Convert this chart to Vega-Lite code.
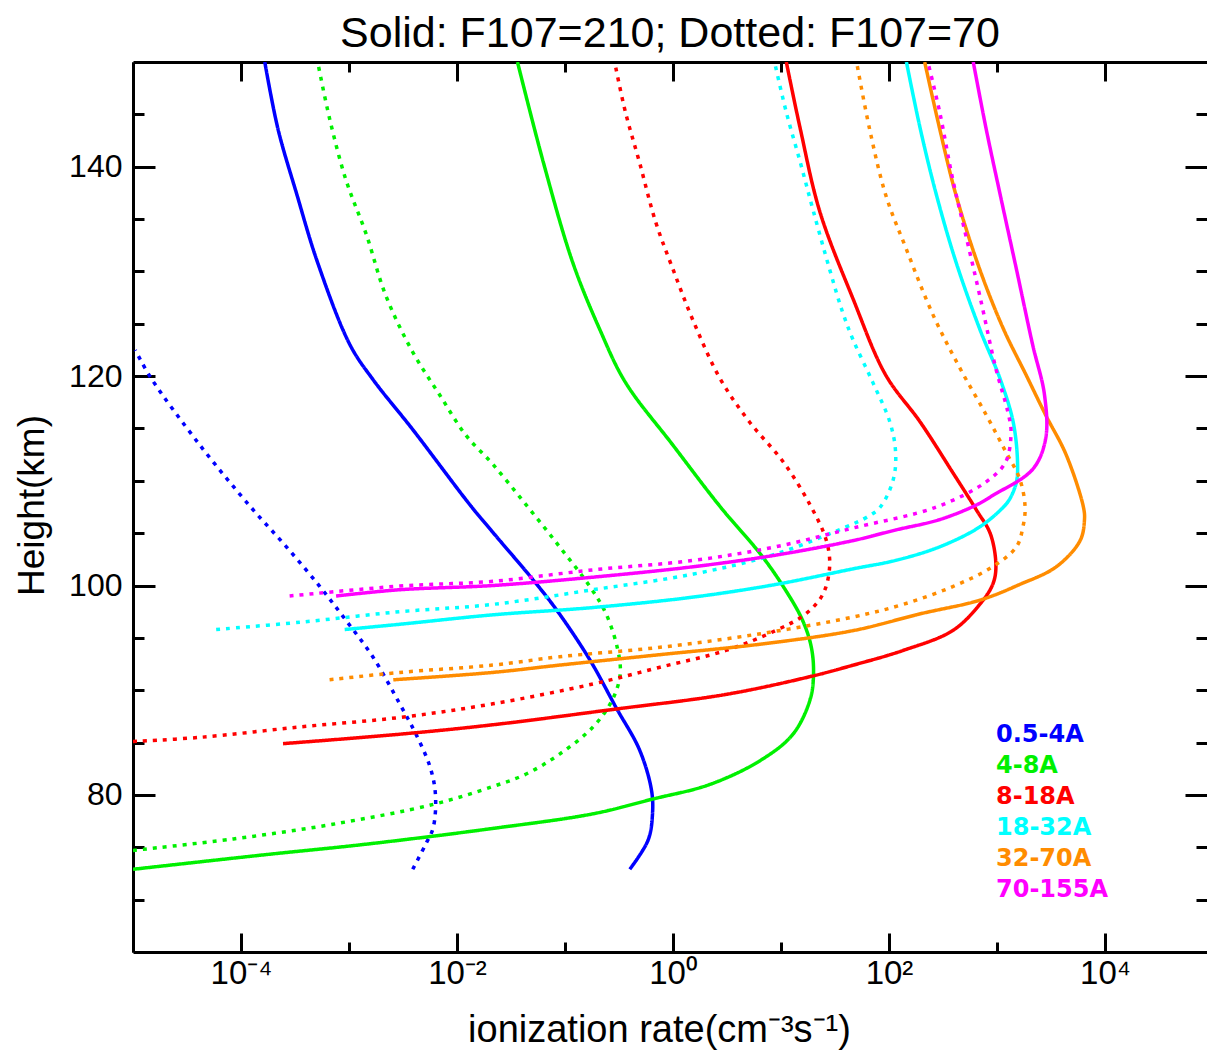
{
  "$schema": "https://vega.github.io/schema/vega-lite/v6.json",
  "autosize": {"type": "none"},
  "padding": {"left": 133, "top": 62, "right": 0, "bottom": 101},
  "width": 1074,
  "height": 890,
  "background": "white",
  "title": {"text": "Solid: F107=210; Dotted: F107=70", "font": "Liberation Sans", "fontSize": 43, "fontWeight": "normal", "color": "black", "anchor": "middle", "baseline": "bottom", "offset": 12, "dy": 52},
  "config": {"view": {"stroke": null}},
  "data": {"values": [
    {"b":"0.5-4A","f":"210","r":1.66e-4,"h":150},{"b":"0.5-4A","f":"210","r":2.20e-4,"h":143.6},{"b":"0.5-4A","f":"210","r":3.30e-4,"h":137.3},{"b":"0.5-4A","f":"210","r":5.10e-4,"h":130.9},{"b":"0.5-4A","f":"210","r":1.02e-3,"h":123.0},{"b":"0.5-4A","f":"210","r":1.66e-3,"h":119.7},{"b":"0.5-4A","f":"210","r":3.89e-3,"h":114.9},{"b":"0.5-4A","f":"210","r":1.32e-2,"h":107.7},{"b":"0.5-4A","f":"210","r":2.14e-2,"h":105.1},{"b":"0.5-4A","f":"210","r":5.01e-2,"h":100.6},{"b":"0.5-4A","f":"210","r":8.32e-2,"h":97.7},{"b":"0.5-4A","f":"210","r":0.170,"h":92.9},{"b":"0.5-4A","f":"210","r":0.295,"h":88.4},{"b":"0.5-4A","f":"210","r":0.490,"h":84.3},{"b":"0.5-4A","f":"210","r":0.631,"h":80.5},{"b":"0.5-4A","f":"210","r":0.646,"h":78.2},{"b":"0.5-4A","f":"210","r":0.589,"h":75.7},{"b":"0.5-4A","f":"210","r":0.398,"h":72.9},
    {"b":"0.5-4A","f":"70","r":1.05e-5,"h":122.5},{"b":"0.5-4A","f":"70","r":1.45e-5,"h":119.9},{"b":"0.5-4A","f":"70","r":4.17e-5,"h":113.4},{"b":"0.5-4A","f":"70","r":1.23e-4,"h":107.5},{"b":"0.5-4A","f":"70","r":2.63e-4,"h":103.7},{"b":"0.5-4A","f":"70","r":5.37e-4,"h":99.9},{"b":"0.5-4A","f":"70","r":9.33e-4,"h":96.7},{"b":"0.5-4A","f":"70","r":1.66e-3,"h":93.2},{"b":"0.5-4A","f":"70","r":2.95e-3,"h":88.7},{"b":"0.5-4A","f":"70","r":4.17e-3,"h":85.8},{"b":"0.5-4A","f":"70","r":5.62e-3,"h":82.7},{"b":"0.5-4A","f":"70","r":6.31e-3,"h":80.1},{"b":"0.5-4A","f":"70","r":6.03e-3,"h":76.9},{"b":"0.5-4A","f":"70","r":5.13e-3,"h":75.3},{"b":"0.5-4A","f":"70","r":3.89e-3,"h":72.9},
    {"b":"4-8A","f":"210","r":3.63e-2,"h":150},{"b":"4-8A","f":"210","r":6.31e-2,"h":140.4},{"b":"4-8A","f":"210","r":0.1175,"h":130.9},{"b":"4-8A","f":"210","r":0.209,"h":124.5},{"b":"4-8A","f":"210","r":0.363,"h":119.4},{"b":"4-8A","f":"210","r":1.0,"h":113.4},{"b":"4-8A","f":"210","r":2.75,"h":107.5},{"b":"4-8A","f":"210","r":6.46,"h":103.0},{"b":"4-8A","f":"210","r":10.5,"h":99.9},{"b":"4-8A","f":"210","r":15.8,"h":96.7},{"b":"4-8A","f":"210","r":19.1,"h":94.1},{"b":"4-8A","f":"210","r":20.0,"h":91.5},{"b":"4-8A","f":"210","r":18.6,"h":89.1},{"b":"4-8A","f":"210","r":12.9,"h":85.8},{"b":"4-8A","f":"210","r":6.46,"h":83.3},{"b":"4-8A","f":"210","r":2.19,"h":81.0},{"b":"4-8A","f":"210","r":0.646,"h":79.6},{"b":"4-8A","f":"210","r":0.182,"h":78.2},{"b":"4-8A","f":"210","r":0.0214,"h":76.8},{"b":"4-8A","f":"210","r":1.45e-3,"h":75.3},{"b":"4-8A","f":"210","r":1.70e-4,"h":74.3},{"b":"4-8A","f":"210","r":1.0e-5,"h":72.9},
    {"b":"4-8A","f":"70","r":5.13e-4,"h":150},{"b":"4-8A","f":"70","r":6.61e-4,"h":144.6},{"b":"4-8A","f":"70","r":9.33e-4,"h":138.8},{"b":"4-8A","f":"70","r":1.45e-3,"h":133.5},{"b":"4-8A","f":"70","r":2.19e-3,"h":127.7},{"b":"4-8A","f":"70","r":3.89e-3,"h":122.3},{"b":"4-8A","f":"70","r":6.92e-3,"h":118.2},{"b":"4-8A","f":"70","r":1.20e-2,"h":114.4},{"b":"4-8A","f":"70","r":2.14e-2,"h":111.6},{"b":"4-8A","f":"70","r":4.37e-2,"h":107.7},{"b":"4-8A","f":"70","r":8.91e-2,"h":103.7},{"b":"4-8A","f":"70","r":0.170,"h":99.9},{"b":"4-8A","f":"70","r":0.240,"h":97.3},{"b":"4-8A","f":"70","r":0.309,"h":93.8},{"b":"4-8A","f":"70","r":0.324,"h":91.5},{"b":"4-8A","f":"70","r":0.275,"h":89.1},{"b":"4-8A","f":"70","r":0.182,"h":86.5},{"b":"4-8A","f":"70","r":0.0891,"h":83.9},{"b":"4-8A","f":"70","r":0.0437,"h":82.0},{"b":"4-8A","f":"70","r":0.0214,"h":80.8},{"b":"4-8A","f":"70","r":6.03e-3,"h":79.1},{"b":"4-8A","f":"70","r":7.08e-4,"h":77.2},{"b":"4-8A","f":"70","r":8.51e-5,"h":75.8},{"b":"4-8A","f":"70","r":1.0e-5,"h":74.7},
    {"b":"8-18A","f":"210","r":11.2,"h":150},{"b":"8-18A","f":"210","r":15.1,"h":143.6},{"b":"8-18A","f":"210","r":22.9,"h":135.7},{"b":"8-18A","f":"210","r":46.8,"h":127.3},{"b":"8-18A","f":"210","r":93.3,"h":120.1},{"b":"8-18A","f":"210","r":195,"h":115.6},{"b":"8-18A","f":"210","r":389,"h":110.8},{"b":"8-18A","f":"210","r":646,"h":107.2},{"b":"8-18A","f":"210","r":871,"h":104.9},{"b":"8-18A","f":"210","r":977,"h":101.8},{"b":"8-18A","f":"210","r":912,"h":100.1},{"b":"8-18A","f":"210","r":692,"h":98.2},{"b":"8-18A","f":"210","r":389,"h":95.7},{"b":"8-18A","f":"210","r":135,"h":93.8},{"b":"8-18A","f":"210","r":46.8,"h":92.4},{"b":"8-18A","f":"210","r":18.6,"h":91.3},{"b":"8-18A","f":"210","r":3.09,"h":89.6},{"b":"8-18A","f":"210","r":0.295,"h":88.2},{"b":"8-18A","f":"210","r":0.0214,"h":86.7},{"b":"8-18A","f":"210","r":2.95e-3,"h":85.8},{"b":"8-18A","f":"210","r":2.45e-4,"h":84.9},
    {"b":"8-18A","f":"70","r":0.288,"h":150},{"b":"8-18A","f":"70","r":0.363,"h":145.2},{"b":"8-18A","f":"70","r":0.490,"h":140.4},{"b":"8-18A","f":"70","r":0.692,"h":134.7},{"b":"8-18A","f":"70","r":1.0,"h":130.2},{"b":"8-18A","f":"70","r":1.55,"h":125.2},{"b":"8-18A","f":"70","r":2.75,"h":119.7},{"b":"8-18A","f":"70","r":5.13,"h":115.6},{"b":"8-18A","f":"70","r":10.5,"h":111.8},{"b":"8-18A","f":"70","r":18.6,"h":107.7},{"b":"8-18A","f":"70","r":26.3,"h":104.3},{"b":"8-18A","f":"70","r":28.2,"h":101.8},{"b":"8-18A","f":"70","r":24.5,"h":99.2},{"b":"8-18A","f":"70","r":17.0,"h":97.3},{"b":"8-18A","f":"70","r":8.91,"h":95.7},{"b":"8-18A","f":"70","r":3.09,"h":93.8},{"b":"8-18A","f":"70","r":0.759,"h":92.2},{"b":"8-18A","f":"70","r":0.182,"h":90.6},{"b":"8-18A","f":"70","r":0.0214,"h":88.7},{"b":"8-18A","f":"70","r":2.95e-3,"h":87.4},{"b":"8-18A","f":"70","r":3.55e-4,"h":86.5},{"b":"8-18A","f":"70","r":4.17e-5,"h":85.5},{"b":"8-18A","f":"70","r":1.0e-5,"h":85.1},
    {"b":"18-32A","f":"210","r":145,"h":150},{"b":"18-32A","f":"210","r":195,"h":143.6},{"b":"18-32A","f":"210","r":275,"h":137.3},{"b":"18-32A","f":"210","r":417,"h":130.9},{"b":"18-32A","f":"210","r":692,"h":124.5},{"b":"18-32A","f":"210","r":1072,"h":119.7},{"b":"18-32A","f":"210","r":1413,"h":115.6},{"b":"18-32A","f":"210","r":1549,"h":111.8},{"b":"18-32A","f":"210","r":1514,"h":109.9},{"b":"18-32A","f":"210","r":1318,"h":108.3},{"b":"18-32A","f":"210","r":1148,"h":107.5},{"b":"18-32A","f":"210","r":692,"h":105.6},{"b":"18-32A","f":"210","r":295,"h":103.7},{"b":"18-32A","f":"210","r":115,"h":102.4},{"b":"18-32A","f":"210","r":46.8,"h":101.6},{"b":"18-32A","f":"210","r":8.91,"h":100.1},{"b":"18-32A","f":"210","r":1.55,"h":98.9},{"b":"18-32A","f":"210","r":0.182,"h":97.9},{"b":"18-32A","f":"210","r":0.0214,"h":97.2},{"b":"18-32A","f":"210","r":2.95e-3,"h":96.3},{"b":"18-32A","f":"210","r":9.12e-4,"h":95.8},
    {"b":"18-32A","f":"70","r":8.71,"h":150},{"b":"18-32A","f":"70","r":11.2,"h":145.2},{"b":"18-32A","f":"70","r":15.1,"h":140.4},{"b":"18-32A","f":"70","r":20.0,"h":135.7},{"b":"18-32A","f":"70","r":28.2,"h":130.2},{"b":"18-32A","f":"70","r":37.2,"h":126.1},{"b":"18-32A","f":"70","r":46.8,"h":123.4},{"b":"18-32A","f":"70","r":70.8,"h":119.4},{"b":"18-32A","f":"70","r":102,"h":115.6},{"b":"18-32A","f":"70","r":115,"h":112.8},{"b":"18-32A","f":"70","r":110,"h":110.2},{"b":"18-32A","f":"70","r":83.2,"h":107.5},{"b":"18-32A","f":"70","r":61.7,"h":106.5},{"b":"18-32A","f":"70","r":46.8,"h":105.9},{"b":"18-32A","f":"70","r":8.91,"h":103.0},{"b":"18-32A","f":"70","r":1.55,"h":101.1},{"b":"18-32A","f":"70","r":0.182,"h":99.6},{"b":"18-32A","f":"70","r":0.0214,"h":98.2},{"b":"18-32A","f":"70","r":2.95e-3,"h":97.5},{"b":"18-32A","f":"70","r":3.55e-4,"h":96.5},{"b":"18-32A","f":"70","r":5.89e-5,"h":95.8},
    {"b":"32-70A","f":"210","r":214,"h":150},{"b":"32-70A","f":"210","r":295,"h":143.6},{"b":"32-70A","f":"210","r":417,"h":137.3},{"b":"32-70A","f":"210","r":692,"h":130.2},{"b":"32-70A","f":"210","r":1148,"h":124.5},{"b":"32-70A","f":"210","r":1862,"h":120.1},{"b":"32-70A","f":"210","r":2818,"h":116.3},{"b":"32-70A","f":"210","r":4365,"h":112.5},{"b":"32-70A","f":"210","r":6310,"h":107.5},{"b":"32-70A","f":"210","r":6457,"h":106.3},{"b":"32-70A","f":"210","r":5888,"h":104.3},{"b":"32-70A","f":"210","r":3548,"h":101.8},{"b":"32-70A","f":"210","r":1622,"h":100.1},{"b":"32-70A","f":"210","r":692,"h":98.6},{"b":"32-70A","f":"210","r":195,"h":97.3},{"b":"32-70A","f":"210","r":46.8,"h":95.7},{"b":"32-70A","f":"210","r":6.46,"h":94.4},{"b":"32-70A","f":"210","r":0.759,"h":93.4},{"b":"32-70A","f":"210","r":0.0891,"h":92.4},{"b":"32-70A","f":"210","r":0.0214,"h":91.7},{"b":"32-70A","f":"210","r":2.57e-3,"h":91.0},
    {"b":"32-70A","f":"70","r":50.1,"h":150},{"b":"32-70A","f":"70","r":66.1,"h":143.6},{"b":"32-70A","f":"70","r":93.3,"h":137.3},{"b":"32-70A","f":"70","r":145,"h":132.1},{"b":"32-70A","f":"70","r":257,"h":125.8},{"b":"32-70A","f":"70","r":457,"h":120.7},{"b":"32-70A","f":"70","r":794,"h":116.3},{"b":"32-70A","f":"70","r":1202,"h":112.8},{"b":"32-70A","f":"70","r":1622,"h":110.2},{"b":"32-70A","f":"70","r":1820,"h":107.5},{"b":"32-70A","f":"70","r":1738,"h":105.6},{"b":"32-70A","f":"70","r":1514,"h":103.7},{"b":"32-70A","f":"70","r":912,"h":101.8},{"b":"32-70A","f":"70","r":389,"h":99.9},{"b":"32-70A","f":"70","r":135,"h":98.2},{"b":"32-70A","f":"70","r":46.8,"h":97.0},{"b":"32-70A","f":"70","r":6.46,"h":95.4},{"b":"32-70A","f":"70","r":0.759,"h":94.1},{"b":"32-70A","f":"70","r":0.0891,"h":93.2},{"b":"32-70A","f":"70","r":0.0214,"h":92.4},{"b":"32-70A","f":"70","r":2.95e-3,"h":91.7},{"b":"32-70A","f":"70","r":6.61e-4,"h":91.0},
    {"b":"70-155A","f":"210","r":603,"h":150},{"b":"70-155A","f":"210","r":794,"h":143.6},{"b":"70-155A","f":"210","r":1072,"h":137.3},{"b":"70-155A","f":"210","r":1514,"h":130.2},{"b":"70-155A","f":"210","r":2138,"h":123.0},{"b":"70-155A","f":"210","r":2754,"h":118.2},{"b":"70-155A","f":"210","r":2818,"h":114.0},{"b":"70-155A","f":"210","r":2138,"h":111.1},{"b":"70-155A","f":"210","r":912,"h":108.6},{"b":"70-155A","f":"210","r":646,"h":107.7},{"b":"70-155A","f":"210","r":295,"h":106.3},{"b":"70-155A","f":"210","r":115,"h":105.3},{"b":"70-155A","f":"210","r":46.8,"h":104.3},{"b":"70-155A","f":"210","r":8.91,"h":102.9},{"b":"70-155A","f":"210","r":1.55,"h":101.8},{"b":"70-155A","f":"210","r":0.182,"h":100.8},{"b":"70-155A","f":"210","r":0.0214,"h":100.0},{"b":"70-155A","f":"210","r":2.95e-3,"h":99.6},{"b":"70-155A","f":"210","r":7.59e-4,"h":99.0},
    {"b":"70-155A","f":"70","r":229,"h":150},{"b":"70-155A","f":"70","r":295,"h":145.2},{"b":"70-155A","f":"70","r":389,"h":138.8},{"b":"70-155A","f":"70","r":513,"h":133.5},{"b":"70-155A","f":"70","r":692,"h":127.7},{"b":"70-155A","f":"70","r":977,"h":120.7},{"b":"70-155A","f":"70","r":1259,"h":116.6},{"b":"70-155A","f":"70","r":1349,"h":114.7},{"b":"70-155A","f":"70","r":1202,"h":111.8},{"b":"70-155A","f":"70","r":794,"h":109.9},{"b":"70-155A","f":"70","r":275,"h":107.5},{"b":"70-155A","f":"70","r":46.8,"h":105.5},{"b":"70-155A","f":"70","r":8.91,"h":103.7},{"b":"70-155A","f":"70","r":1.55,"h":102.4},{"b":"70-155A","f":"70","r":0.182,"h":101.5},{"b":"70-155A","f":"70","r":0.0214,"h":100.4},{"b":"70-155A","f":"70","r":2.95e-3,"h":99.95},{"b":"70-155A","f":"70","r":2.82e-4,"h":99.0}
  ]},
  "resolve": {"axis": {"x": "independent", "y": "independent"}},
  "layer": [
    {
      "mark": {"type": "line", "strokeWidth": 3.5, "clip": true, "interpolate": "catmull-rom"},
      "encoding": {
        "x": {"field": "r", "type": "quantitative",
          "scale": {"type": "log", "domain": [1e-5, 88000], "nice": false},
          "axis": {"orient": "bottom", "values": [1e-5, 1e-4, 1e-3, 1e-2, 1e-1, 1, 10, 100, 1000, 10000],
            "labelExpr": "datum.value==1e-4?'10⁻⁴':datum.value==1e-2?'10⁻²':datum.value==1?'10⁰':datum.value==100?'10²':datum.value==10000?'10⁴':''",
            "labelOverlap": false, "labelFlush": false, "grid": false,
            "tickSize": {"condition": {"test": "abs(round(log(datum.value)/LN10)) % 2 == 0", "value": -19}, "value": -10},
            "tickWidth": 3, "tickColor": "black", "domainWidth": 3, "domainColor": "black",
            "labelFont": "Liberation Sans", "labelFontSize": 33, "labelColor": "black", "labelPadding": 40, "labelBaseline": "middle",
            "title": "ionization rate(cm⁻³s⁻¹)", "titleFont": "Liberation Sans", "titleFontSize": 38, "titleFontWeight": "normal", "titleColor": "black",
            "titleX": 526, "titleY": 78, "titleBaseline": "middle", "titleAlign": "center"}},
        "y": {"field": "h", "type": "quantitative",
          "scale": {"domain": [65, 150], "nice": false, "zero": false},
          "axis": {"orient": "left", "values": [70, 75, 80, 85, 90, 95, 100, 105, 110, 115, 120, 125, 130, 135, 140, 145],
            "labelExpr": "datum.value % 20 == 0 ? datum.label : ''",
            "labelOverlap": false, "labelFlush": false, "grid": false,
            "tickSize": {"condition": {"test": "datum.value % 20 == 0", "value": -22}, "value": -11},
            "tickWidth": 3, "tickColor": "black", "domainWidth": 3, "domainColor": "black",
            "labelFont": "Liberation Sans", "labelFontSize": 32, "labelColor": "black", "labelPadding": 33,
            "title": "Height(km)", "titleFont": "Liberation Sans", "titleFontSize": 37, "titleFontWeight": "normal", "titleColor": "black",
            "titleX": -101, "titleY": 443, "titleAngle": 270, "titleBaseline": "middle", "titleAlign": "center"}},
        "color": {"field": "b", "type": "nominal",
          "scale": {"domain": ["0.5-4A", "4-8A", "8-18A", "18-32A", "32-70A", "70-155A"], "range": ["#0000FF", "#00F000", "#FF0000", "#00FFFF", "#FF8C00", "#FF00FF"]},
          "legend": {"orient": "none", "legendX": 839, "legendY": 661, "title": null, "symbolSize": 0, "symbolStrokeWidth": 0, "symbolOpacity": 0, "labelOffset": 0,
            "labelFont": "DejaVu Sans", "labelFontWeight": "bold", "labelFontSize": 24, "rowPadding": 7,
            "encode": {"labels": {"update": {"fill": {"signal": "scale('color', datum.value)"}}}}}},
        "strokeDash": {"field": "f", "type": "nominal",
          "scale": {"domain": ["210", "70"], "range": [[1, 0], [4, 6]]}, "legend": null},
        "order": {"field": "h", "type": "quantitative"}
      }
    },
    {
      "mark": {"type": "point", "opacity": 0},
      "encoding": {
        "x": {"field": "r", "type": "quantitative",
          "axis": {"orient": "top", "values": [1e-5, 1e-4, 1e-3, 1e-2, 1e-1, 1, 10, 100, 1000, 10000], "labels": false, "title": null, "grid": false,
            "tickSize": {"condition": {"test": "abs(round(log(datum.value)/LN10)) % 2 == 0", "value": -19}, "value": -10},
            "tickWidth": 3, "tickColor": "black", "domainWidth": 3, "domainColor": "black"}},
        "y": {"field": "h", "type": "quantitative",
          "axis": {"orient": "right", "values": [70, 75, 80, 85, 90, 95, 100, 105, 110, 115, 120, 125, 130, 135, 140, 145], "labels": false, "title": null, "grid": false, "domain": false,
            "tickSize": {"condition": {"test": "datum.value % 20 == 0", "value": -22}, "value": -11},
            "tickWidth": 3, "tickColor": "black"}}
      }
    }
  ]
}
